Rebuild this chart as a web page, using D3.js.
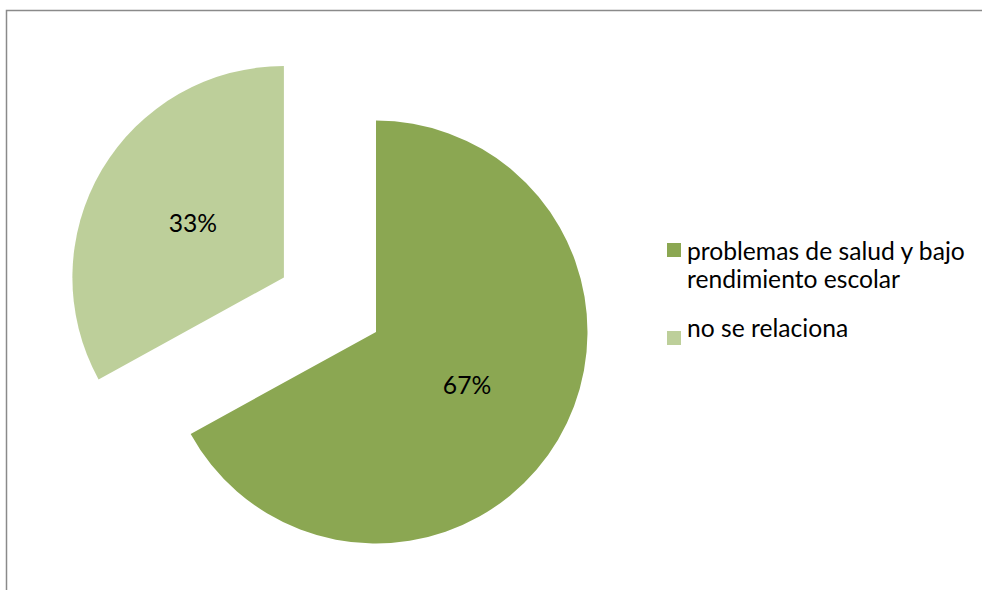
<!DOCTYPE html>
<html><head><meta charset="utf-8">
<script src="https://cdn.jsdelivr.net/npm/d3@7"></script>
<style>body{margin:0;background:#fff;}svg{display:block;}</style>
</head><body>
<svg id="c" width="982" height="590"></svg>
<script>
const categories = ["problemas de salud y bajo rendimiento escolar", "no se relaciona"];
const legendLines = [["problemas de salud y bajo", "rendimiento escolar"], ["no se relaciona"]];
const values = [67, 33];
const labels = ["67%", "33%"];
const colors = ["#8BA752", "#BDCF9A"];
const explode = [0, 107];

const svg = d3.select("#c");
const FONT = "Lato, 'Open Sans', sans-serif";

// fit font size to reference text width
const probe = svg.append("text").attr("font-family", FONT).attr("font-size", 20).text(legendLines[0][0]);
const w20 = probe.node().getComputedTextLength();
probe.remove();
const FS = Math.max(14, Math.min(30, 20 * 278 / (w20 || 236 * 20 / 21)));

// chart border
svg.append("path").attr("d", "M6.5,600 V10.5 H990")
  .attr("fill", "none").attr("stroke", "#8a8a8a").attr("stroke-width", 1.5);

const cx = 376, cy = 332, r = 211.5;
const pie = d3.pie().sort(null).value(d => d)(values);
const arc = d3.arc().innerRadius(0).outerRadius(r);
const g = svg.append("g").attr("transform", `translate(${cx},${cy})`);

pie.forEach((p, i) => {
  const mid = (p.startAngle + p.endAngle) / 2;
  const ox = Math.sin(mid) * explode[i], oy = -Math.cos(mid) * explode[i];
  const sg = g.append("g").attr("transform", `translate(${ox},${oy})`);
  sg.append("path").attr("d", arc(p)).attr("fill", colors[i]);
  const lr = r * 0.5;
  sg.append("text").attr("x", Math.sin(mid) * lr).attr("y", -Math.cos(mid) * lr + 8)
    .attr("text-anchor", "middle").attr("font-family", FONT).attr("font-size", FS)
    .attr("fill", "#000").text(labels[i]);
});

// legend
const lg = svg.append("g");
const rowTops = [243, 331];
const baselines = [[260, 288], [337]];
legendLines.forEach((lines, i) => {
  lg.append("rect").attr("x", 667).attr("y", rowTops[i]).attr("width", 14).attr("height", 14).attr("fill", colors[i]);
  lines.forEach((t, j) => {
    lg.append("text").attr("x", 687).attr("y", baselines[i][j]).attr("font-family", FONT)
      .attr("font-size", FS).attr("fill", "#000").text(t);
  });
});
</script>
</body></html>
